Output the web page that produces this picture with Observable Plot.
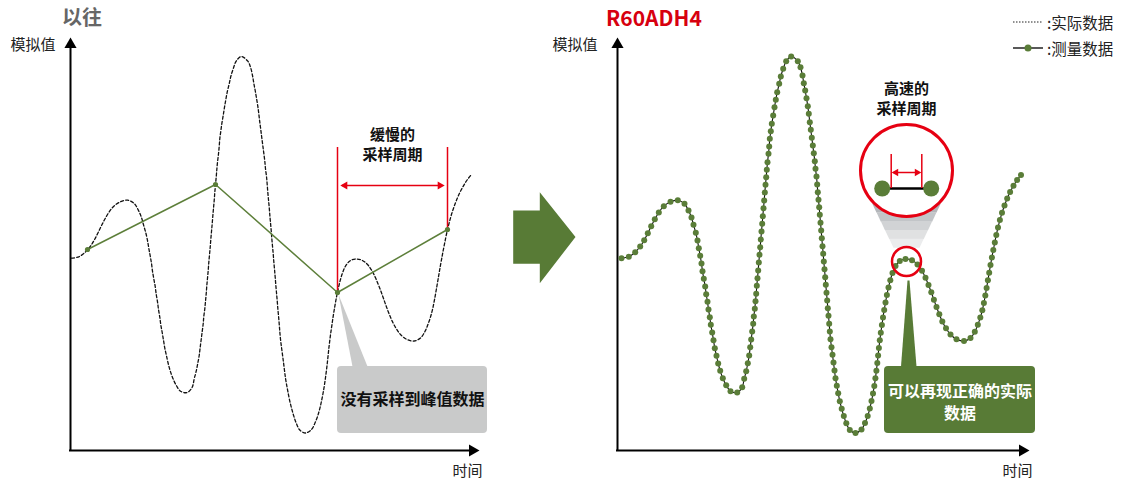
<!DOCTYPE html>
<html><head><meta charset="utf-8">
<script src="https://cdn.jsdelivr.net/npm/d3@7"></script>
<script src="https://cdn.jsdelivr.net/npm/@observablehq/plot@0.6"></script>
<style>
body{margin:0;background:#fff;font-family:"Noto Sans CJK SC","Noto Sans",sans-serif;}
#wrap{position:relative;width:1126px;height:483px;overflow:hidden;}
.panel{position:absolute;top:0;height:483px;}
.title{position:absolute;top:3px;font-weight:700;line-height:28px;white-space:nowrap;}
.legend{position:absolute;left:1012px;top:9px;font-size:15.5px;color:#222;}
.legend .row{display:flex;align-items:center;height:26px;}
.legend svg{display:block;margin-right:3px;}
</style></head><body>
<div id="wrap">
  <div class="panel" id="left" style="left:0;width:580px"></div>
  <div class="panel" id="right" style="left:550px;width:576px"></div>
  <div class="title" id="t1" style="left:62px;font-size:20px;color:#666"></div>
  <div class="title" id="t2" style="left:606px;font-size:21px;color:#d7000f"></div>
  <div class="legend" id="legend"></div>
</div>
<script>
// ---- data (time / analog value, arbitrary units) ----
const dotTime = [1,8.3,14.7,19.7,23.7,27.3,30.7,34.3,38.3,43.3,50,57.3,64,68,71,73,75.3,77,78.3,79.7,81,82,83.3,84.7,85.7,87,88,89.3,90.3,91.7,93,94.3,96,97.7,99.7,102.3,105.7,110,116.7,
121.7,123.7,125.7,127.3,128.7,129.7,130.7,131.7,132.7,133.3,134.3,135,135.7,136.3,137,137.7,138.3,139,139.7,140.3,141,141.7,142.3,143,143.7,144.3,145,145.7,146.3,147,148,148.7,149.3,150.3,151.3,152.7,154,155.3,156.7,158.7,160.3,162.7,165.7,170.7,
177.3,180,182,183.3,184.7,186,187.3,188.3,189.3,190.3,191.3,192.3,193.3,194.3,195,196,196.7,197.3,198,198.7,199.3,200,200.7,201.3,202,202.7,203.3,204,204.7,205.3,206,206.7,207.3,208,208.7,209.3,210,211,212,213,214,215,216.3,217.7,219.3,221.2,223.3,225.8,229.3,235,241,
244.5,247.2,249.3,251,252.5,253.8,254.9,255.9,256.8,257.6,258.4,259.3,260.3,261.4,262.5,263.7,265,266.4,268,269.8,272,275,279.3,285,291.5,
297,301.5,305,308,310.8,313.4,316,318.8,321.8,325.5,330,336,343.5,350,354.3,357.3,359.8,361.8,363.4,364.8,366.1,367.4,368.7,370,371.4,372.8,374.3,375.8,377.5,379.4,381.5,384,386.7,389.6,393,396.6,400.5];
const dotValue = [192.3,193.7,198.3,204,210.3,217.3,224.3,231.3,238,244.3,248.7,250.3,246.7,240,233,225.7,217.7,210,202.3,194.7,187,179.3,171.7,164,156.3,148.7,141,133.3,125.7,118,110.3,102.3,94.7,87,79.7,72.3,65.3,59.3,58,
63.3,71.7,79.3,87.3,95,103.3,111,119,126.7,134,141.7,149.3,156.7,164.7,172.3,180,188,195.7,203.3,211,219,226.7,234.3,242.3,250,258,265.7,273.3,280.7,288.3,296.7,304,311.7,319.3,326.7,335,343.3,350.7,358.3,366.7,374,381.7,389.3,394,
389.3,383.3,375,367.3,360,352.3,344.3,336.7,328.3,320.7,312.7,305,297.3,289.3,281.7,274,266,258.3,250.7,243.3,235.7,227.7,220,212.3,204.3,196.7,189,181.3,173.3,165.7,157.7,150,142.3,134.7,126.7,119,111.3,103.3,95.7,88,80,72.3,64.7,57.3,49.3,41.8,34.4,27.2,20.5,17.5,21,
27.5,34.5,41.9,49.4,57,64.6,72.2,79.8,87.4,95,102.6,110.2,117.8,125.4,133,140.5,148,155.5,163,170.3,177.5,184.4,189.5,191.5,190.2,
186,179.7,172.7,165.5,158.2,150.8,143.5,136.2,129.1,122.3,116,111.3,109.5,112.5,118.7,125.7,132.9,140.2,147.6,155.1,162.6,170.2,177.8,185.4,193,200.5,208,215.5,223,230.4,237.7,245,252,258.5,264.7,270.5,275.5];
const sampleTime = [17, 145, 267, 377];
const sampleValue = [201, 266, 158, 221];
const panelTitles = ["以往", "R60ADH4"];
const axisLabels = ["模拟值", "时间"];
const legendLabels = [":实际数据", ":测量数据"];
const noteSlow = "缓慢的\n采样周期";
const noteFast = "高速的\n采样周期";
const calloutLeft = "没有采样到峰值数据";
const calloutRight = "可以再现正确的实际\n数据";

// ---- styles ----
const RED = "#e60012", GREEN = "#587b36", DOT = "#5a7d38", GRAY = "#c9caca";
const CONE_SHADES = ["#b3b6ba", "#c2c5c8", "#d1d3d5", "#e0e1e2", "#ebeced"];
const FONT = '"Noto Sans CJK SC","Noto Sans",sans-serif';

const curve = dotTime.map((t, i) => ({t, v: dotValue[i]}));
const samples = sampleTime.map((t, i) => ({t, v: sampleValue[i]}));

function axes(axisT, labelDx) {
  return [
    Plot.ruleX([axisT], {y1: 0, y2: 404, stroke: "#000", strokeWidth: 2}),
    Plot.dot([axisT], {x: d => d, y: 406, symbol: "triangle", r: 4.5, fill: "#000"}),
    Plot.ruleY([0], {x1: axisT - 1, x2: 400, stroke: "#000", strokeWidth: 2}),
    Plot.dot([0], {x: 402, y: 0, symbol: "triangle", rotate: 90, r: 4.5, fill: "#000"}),
    Plot.text([axisLabels[0]], {x: axisT, y: 405, dx: labelDx, textAnchor: "end", fontSize: 15, fill: "#222"}),
    Plot.text([axisLabels[1]], {x: 412, y: -21, textAnchor: "end", fontSize: 15, fill: "#222"})
  ];
}
const base = (width, marginRight) => ({
  width, height: 483, marginLeft: 70, marginRight, marginTop: 40, marginBottom: 33,
  x: {domain: [0, 410], axis: null}, y: {domain: [0, 410], axis: null},
  style: {fontFamily: FONT, background: "transparent", overflow: "visible"}
});

// ---- left panel ----
const s3 = samples[2], s4 = samples[3];
const leftPlot = Plot.plot({
  ...base(580, 100),
  marks: [
    ...axes(0, -15),
    Plot.line(curve, {x: "t", y: "v", curve: "catmull-rom", stroke: "#111", strokeWidth: 1.3, strokeDasharray: "3,2.2"}),
    Plot.ruleX([s3, s4], {x: "t", y1: "v", y2: 303, stroke: RED, strokeWidth: 1.5}),
    Plot.ruleY([265], {x1: s3.t + 5, x2: s4.t - 5, stroke: RED, strokeWidth: 1.5}),
    Plot.dot([s3.t + 7.5], {x: d => d, y: 265, symbol: "triangle", rotate: -90, r: 3, fill: RED}),
    Plot.dot([s4.t - 7.5], {x: d => d, y: 265, symbol: "triangle", rotate: 90, r: 3, fill: RED}),
    Plot.text([noteSlow], {x: (s3.t + s4.t) / 2, y: 307, fontSize: 15, fontWeight: "bold", lineHeight: 1.35, fill: "#111"}),
    Plot.line(samples, {x: "t", y: "v", stroke: "#5d7f3a", strokeWidth: 1.5}),
    Plot.dot(samples, {x: "t", y: "v", r: 2.6, fill: DOT}),
    // grey callout
    Plot.line([[s3.t + 1, s3.v - 2], [s3.t + 15, 84], [s3.t + 30, 84]], {x: d => d[0], y: d => d[1], curve: "linear-closed", fill: GRAY, stroke: "none"}),
    Plot.rect([0], {x1: s3.t, x2: s3.t + 150, y1: 17, y2: 84, fill: GRAY, rx: 4}),
    Plot.text([calloutLeft], {x: s3.t + 75, y: 51, fontSize: 16, fontWeight: "bold", fill: "#111"}),
    // big transition arrow
    Plot.line([[442.7, 240], [469.3, 240], [469.3, 258.3], [505, 213.5], [469.3, 167.3], [469.3, 186.7], [442.7, 186.7]],
      {x: d => d[0], y: d => d[1], curve: "linear-closed", fill: GREEN, stroke: "none"})
  ]
});
document.getElementById("left").append(leftPlot);

// ---- right panel ----
const lensT = 286, lensV = 189;
// magnifier cone: trapezoid from the lens (top) to the small circle (bottom), drawn as shaded bands
const coneTop = {v: 247, l: 251.7, r: 320.3}, coneBot = {v: 203, l: 273, r: 299};
const coneBands = CONE_SHADES.map((c, i) => {
  const a = i / CONE_SHADES.length, b = (i + 1) / CONE_SHADES.length;
  const at = (f) => ({v: coneTop.v + (coneBot.v - coneTop.v) * f, l: coneTop.l + (coneBot.l - coneTop.l) * f, r: coneTop.r + (coneBot.r - coneTop.r) * f});
  const p = at(a), q = at(b);
  return {c, pts: [[p.l, p.v], [p.r, p.v], [q.r, q.v - 0.3], [q.l, q.v - 0.3]]};
});
const rightPlot = Plot.plot({
  ...base(576, 96),
  marks: [
    ...axes(-3, -20),
    Plot.text([noteFast], {x: lensT, y: 353, fontSize: 15, fontWeight: "bold", lineHeight: 1.35, fill: "#111"}),
    ...coneBands.map(b => Plot.line(b.pts, {x: d => d[0], y: d => d[1], curve: "linear-closed", fill: b.c, stroke: "none"})),
    Plot.dot([0], {x: lensT, y: 280, r: 46, fill: "#fff", stroke: RED, strokeWidth: 3}),
    Plot.ruleY([262], {x1: 261.7, x2: 310.7, stroke: "#000", strokeWidth: 2.5}),
    Plot.dot([261.7, 310.7], {x: d => d, y: 262, r: 8, fill: DOT}),
    Plot.ruleX([270.7, 301.3], {x: d => d, y1: 262, y2: 296, stroke: RED, strokeWidth: 1.5}),
    Plot.ruleY([278], {x1: 273.5, x2: 298.5, stroke: RED, strokeWidth: 1.5}),
    Plot.dot([275.5], {x: d => d, y: 278, symbol: "triangle", rotate: -90, r: 2.8, fill: RED}),
    Plot.dot([296.5], {x: d => d, y: 278, symbol: "triangle", rotate: 90, r: 2.8, fill: RED}),
    Plot.line(curve, {x: "t", y: "v", curve: "catmull-rom", stroke: "#111", strokeWidth: 1.1}),
    Plot.dot(curve, {x: "t", y: "v", r: 3, fill: DOT}),
    Plot.dot([0], {x: lensT, y: lensV, r: 14.5, fill: "none", stroke: RED, strokeWidth: 2.5}),
    // green callout
    Plot.line([[lensT + 1, lensV - 19], [lensT + 3, lensV - 19], [lensT + 10, 84], [lensT - 5.5, 84]], {x: d => d[0], y: d => d[1], curve: "linear-closed", fill: GREEN, stroke: "none"}),
    Plot.rect([0], {x1: 264, x2: 415, y1: 17, y2: 84, fill: GREEN, rx: 4}),
    Plot.text([calloutRight], {x: 339.5, y: 50, fontSize: 16, fontWeight: "bold", lineHeight: 1.38, fill: "#fff"})
  ]
});
document.getElementById("right").append(rightPlot);

// ---- titles & legend ----
document.getElementById("t1").textContent = panelTitles[0];
document.getElementById("t2").textContent = panelTitles[1];
const lg = document.getElementById("legend");
lg.innerHTML =
  '<div class="row"><svg width="32" height="12"><line x1="1" x2="31" y1="6" y2="6" stroke="#222" stroke-width="1" stroke-dasharray="1.5,1.5"/></svg><span></span></div>' +
  '<div class="row"><svg width="32" height="12"><line x1="1" x2="31" y1="6" y2="6" stroke="#222" stroke-width="1.5"/><circle cx="16" cy="6" r="3.5" fill="' + DOT + '"/></svg><span></span></div>';
lg.querySelectorAll("span").forEach((s, i) => s.textContent = legendLabels[i]);
</script>
</body></html>
